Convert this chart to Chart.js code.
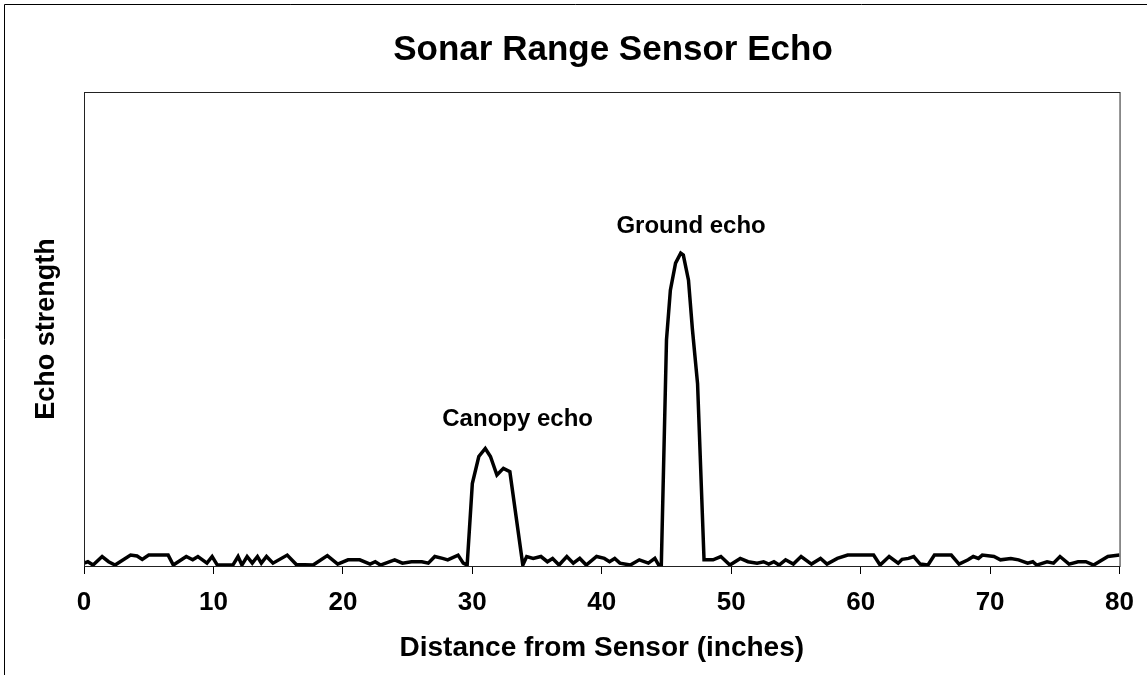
<!DOCTYPE html>
<html>
<head>
<meta charset="utf-8">
<title>Sonar Range Sensor Echo</title>
<script src="https://cdn.jsdelivr.net/npm/chart.js@4.4.1/dist/chart.umd.min.js"></script>
<style>
    html, body { margin: 0; padding: 0; background: #fff; }
</style>
</head>
<body>
<canvas id="sonarChart" width="1147" height="675"></canvas>
<script>
// Traced points: distance from sensor (inches) and echo strength (arbitrary units, 0-100)
const distance = [
    0.0, 0.3, 0.7, 1.4, 1.9, 2.4, 3.6, 4.1, 4.5, 5.0, 6.5, 6.9, 7.9, 8.4, 8.8, 9.5, 9.9, 10.3,
    11.5, 11.9, 12.2, 12.6, 13.0, 13.4, 13.7, 14.1, 14.6, 15.7, 16.4, 17.7, 18.8, 19.6, 20.4,
    21.3, 22.1, 22.5, 22.9, 24.0, 24.6, 25.3, 26.1, 26.6, 27.1, 27.7, 28.1, 28.9, 29.3, 29.6,
    30.0, 30.5, 31.0, 31.4, 31.9, 32.4, 32.9, 33.9, 34.2, 34.7, 35.3, 35.8, 36.2, 36.7, 37.3,
    37.8, 38.3, 38.8, 39.6, 40.2, 40.6, 41.0, 41.4, 42.2, 42.9, 43.6, 44.1, 44.4, 44.6,
    45.0, 45.3, 45.7, 46.1, 46.3, 46.7, 47.0, 47.4, 47.9, 48.6, 49.2, 49.9, 50.7, 51.3, 52.0,
    52.5, 52.9, 53.3, 53.7, 54.2, 54.8, 55.4, 56.2, 56.9, 57.4, 58.2, 59.0, 60.5, 61.0, 61.5,
    62.2, 62.9, 63.2, 63.7, 64.1, 64.6, 65.2, 65.7, 67.0, 67.6, 68.3, 68.7, 69.1, 69.4, 70.3,
    70.8, 71.6, 72.2, 72.9, 73.3, 73.6, 74.4, 74.9, 75.4, 76.1, 76.8, 77.4, 78.0, 79.1, 80.0
];
const strength = [
    0.6, 0.9, 0.2, 2.0, 0.9, 0.2, 2.3, 2.1, 1.4, 2.3, 2.3, 0.2, 2.0, 1.3, 2.0, 0.6, 2.0, 0.2,
    0.2, 2.0, 0.2, 2.0, 0.6, 2.0, 0.6, 2.0, 0.6, 2.3, 0.3, 0.2, 2.2, 0.4, 1.3,
    1.3, 0.4, 0.9, 0.2, 1.3, 0.6, 0.9, 0.9, 0.6, 2.0, 1.6, 1.3, 2.3, 0.6, 0.2,
    17.4, 23.1, 24.8, 23.1, 19.2, 20.6, 19.9, 0.2, 2.0, 1.6, 2.0, 0.9, 1.6, 0.2, 2.0,
    0.6, 1.6, 0.2, 2.0, 1.6, 0.9, 1.6, 0.6, 0.2, 1.3, 0.6, 1.6, 0.2, 0.2,
    47.7, 58.2, 63.9, 66.0, 65.6, 60.3, 50.0, 38.5, 1.3, 1.3, 2.0, 0.2, 1.6, 0.9, 0.6,
    0.9, 0.4, 0.9, 0.2, 1.3, 0.4, 2.0, 0.4, 1.6, 0.4, 1.6, 2.3, 2.3, 2.3, 0.2,
    2.0, 0.6, 1.4, 1.6, 2.0, 0.4, 0.2, 2.3, 2.3, 0.4, 1.3, 2.0, 1.6, 2.3, 2.0,
    1.3, 1.6, 1.3, 0.6, 0.9, 0.2, 0.9, 0.6, 2.0, 0.4, 0.9, 0.9, 0.2, 2.0, 2.3
];
const xTickValues = [0, 10, 20, 30, 40, 50, 60, 70, 80];

// Peak labels, placed in data coordinates
const echoLabels = [
    { text: 'Canopy echo', x: 33.5, y: 31.0 },
    { text: 'Ground echo', x: 46.9, y: 71.7 }
];

const FONT = "'Liberation Sans', Arial, sans-serif";

// Outer frame, chart title and the box round the plot area
const framePlugin = {
    id: 'frame',
    afterDraw(chart) {
        const { ctx, chartArea } = chart;
        ctx.save();
        ctx.strokeStyle = '#000';
        ctx.lineWidth = 1;
        ctx.beginPath();
        ctx.moveTo(4.5, 675);
        ctx.lineTo(4.5, 4.5);
        ctx.lineTo(1147, 4.5);
        ctx.stroke();
        ctx.strokeStyle = '#222';
        ctx.strokeRect(chartArea.left + 0.5, chartArea.top + 0.5,
            chartArea.right - chartArea.left, chartArea.bottom - chartArea.top);

        ctx.font = 'bold 35px ' + FONT;
        ctx.fillStyle = '#000';
        ctx.textAlign = 'center';
        ctx.textBaseline = 'middle';
        ctx.fillText('Sonar Range Sensor Echo', 613, 50);
        ctx.restore();
    }
};

// Text over the two echo peaks
const echoLabelPlugin = {
    id: 'echoLabels',
    afterDatasetsDraw(chart) {
        const { ctx, scales } = chart;
        ctx.save();
        ctx.font = 'bold 24px ' + FONT;
        ctx.fillStyle = '#000';
        ctx.textAlign = 'center';
        ctx.textBaseline = 'middle';
        echoLabels.forEach(l => {
            ctx.fillText(l.text, scales.x.getPixelForValue(l.x), scales.y.getPixelForValue(l.y));
        });
        ctx.restore();
    }
};

new Chart(document.getElementById('sonarChart'), {
    type: 'line',
    data: {
        datasets: [{
            data: distance.map((d, i) => ({ x: d, y: strength[i] })),
            borderColor: '#000',
            borderWidth: 3.5,
            pointRadius: 0,
            tension: 0,
            fill: false
        }]
    },
    options: {
        responsive: false,
        animation: false,
        layout: { padding: { left: 0, right: 27, top: 92, bottom: 0 } },
        plugins: {
            legend: { display: false },
            tooltip: { enabled: false },
            title: { display: false }
        },
        scales: {
            x: {
                type: 'linear',
                min: 0,
                max: 80,
                afterBuildTicks: s => { s.ticks = xTickValues.map(v => ({ value: v })); },
                afterFit: s => { s.height = 675 - 566; },
                ticks: {
                    color: '#000',
                    padding: 13,
                    maxRotation: 0,
                    font: { family: FONT, size: 26, weight: 'bold' }
                },
                grid: {
                    display: true,
                    drawOnChartArea: false,
                    drawTicks: true,
                    tickLength: 8,
                    color: '#000'
                },
                border: { display: true, color: '#000', width: 1 },
                title: {
                    display: true,
                    text: 'Distance from Sensor (inches)',
                    color: '#000',
                    font: { family: FONT, size: 28, weight: 'bold' },
                    padding: { top: 8, bottom: 10 }
                }
            },
            y: {
                min: 0,
                max: 100,
                afterFit: s => { s.width = 84; },
                ticks: { display: false },
                grid: { display: false },
                border: { display: true, color: '#000', width: 1 },
                title: {
                    display: true,
                    text: 'Echo strength',
                    color: '#000',
                    font: { family: FONT, size: 27, weight: 'bold' },
                    padding: { top: 30, bottom: 0 }
                }
            }
        }
    },
    plugins: [framePlugin, echoLabelPlugin]
});
</script>
</body>
</html>
